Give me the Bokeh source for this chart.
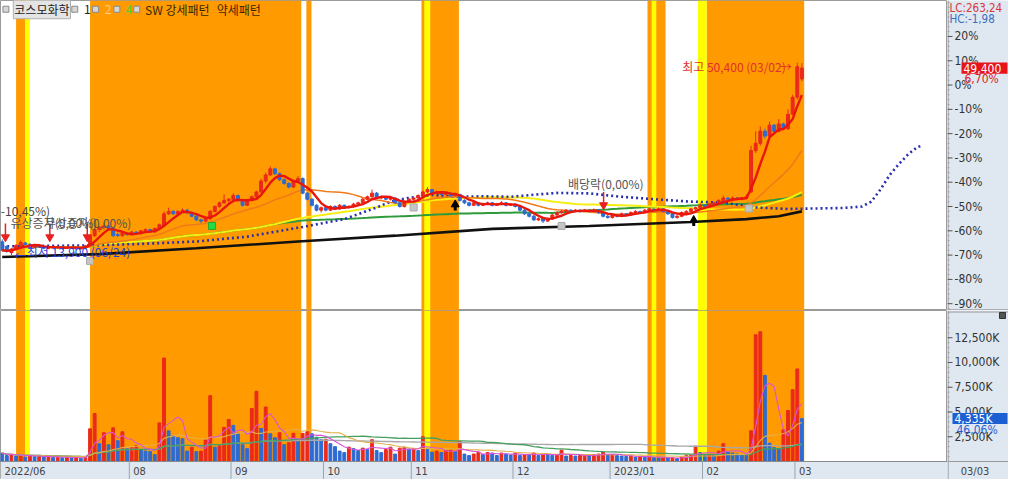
import numpy as np
import pandas as pd
from bokeh.plotting import figure
from bokeh.layouts import column, row
from bokeh.models import Range1d, BoxAnnotation, Label, ColumnDataSource
from bokeh.core.properties import value
from bokeh.embed import file_html
from bokeh.resources import INLINE

# ---------------- data (percent vs. base price, daily, 2022-06-22 .. 2023-03-03) ----------------
opens = [
    -64.5, -66.5, -69.0, -67.5, -66.5, -65.0, -65.6, -66.8, -66.0, -66.5,
    -67.2, -66.8, -67.0, -66.6, -67.2, -67.0, -66.8, -67.4, -67.0, -66.0,
    -62.0, -59.5, -58.5, -58.0, -59.0, -61.5, -62.0, -61.0, -61.5, -60.5,
    -61.2, -60.0, -59.5, -60.5, -59.0, -58.0, -53.0, -52.0, -53.0, -52.0,
    -51.5, -52.5, -54.0, -55.5, -56.0, -55.0, -52.0, -50.0, -48.5, -47.5,
    -47.0, -45.5, -47.5, -49.5, -47.5, -46.0, -44.0, -39.5, -37.0, -34.5,
    -36.5, -39.0, -40.5, -42.0, -39.5, -38.5, -44.5, -47.0, -49.5, -51.5,
    -50.5, -51.5, -50.0, -51.0, -49.5, -50.5, -50.0, -49.0, -48.5, -47.0,
    -46.0, -44.5, -46.5, -46.0, -47.0, -46.5, -48.5, -50.0, -48.0, -47.0,
    -46.5, -45.5, -44.0, -43.0, -44.5, -44.0, -45.0, -44.5, -45.5, -45.0,
    -47.5, -48.5, -49.5, -48.5, -49.5, -49.0, -48.5, -49.5, -49.0, -48.5,
    -49.5, -49.0, -50.0, -51.5, -53.0, -54.0, -55.5, -55.0, -56.0, -55.0,
    -53.5, -52.5, -52.0, -51.5, -52.0, -51.5, -52.0, -51.5, -52.0, -51.5,
    -52.5, -54.0, -54.5, -53.5, -54.0, -53.0, -53.5, -52.5, -52.0, -52.5,
    -51.5, -51.0, -51.5, -51.0, -52.0, -53.0, -54.5, -54.0, -52.5, -52.0,
    -51.0, -50.5, -49.5, -50.0, -49.0, -48.5, -47.5, -46.5, -47.0, -46.5,
    -47.0, -46.5, -44.0, -27.0, -24.0, -19.0, -21.0, -16.5, -19.0, -16.0,
    -18.0, -12.0, -5.0, 2.5]
highs = [
    -63.5, -66.0, -67.0, -65.5, -64.0, -64.5, -65.0, -65.8, -65.8, -66.2,
    -66.5, -66.5, -66.4, -66.4, -66.8, -66.5, -66.6, -66.8, -65.8, -61.5,
    -59.0, -58.0, -56.5, -57.5, -58.5, -60.8, -60.5, -60.5, -60.0, -60.2,
    -59.8, -59.0, -59.2, -58.8, -57.0, -52.0, -50.5, -51.5, -51.5, -50.8,
    -51.0, -52.0, -53.5, -55.0, -54.5, -51.5, -49.5, -48.0, -45.0, -46.5,
    -44.5, -45.0, -47.0, -47.0, -45.5, -43.5, -38.5, -36.0, -33.5, -34.0,
    -36.0, -38.5, -40.0, -39.0, -37.5, -38.0, -44.0, -46.5, -49.0, -50.0,
    -50.0, -49.5, -49.5, -49.0, -49.2, -49.6, -48.5, -48.0, -46.5, -45.5,
    -43.0, -44.0, -45.5, -45.8, -46.0, -46.2, -48.0, -47.5, -46.5, -46.0,
    -45.0, -43.5, -42.0, -42.8, -43.5, -43.8, -44.0, -44.2, -44.5, -44.8,
    -47.0, -48.0, -48.0, -48.2, -48.5, -48.0, -48.2, -48.5, -47.8, -48.2,
    -48.6, -48.8, -49.5, -51.0, -52.5, -53.5, -54.5, -54.8, -54.5, -53.0,
    -52.0, -51.5, -51.0, -51.2, -51.0, -51.2, -51.0, -51.0, -50.8, -51.0,
    -52.0, -53.5, -53.0, -53.2, -52.5, -52.8, -52.0, -51.5, -51.8, -51.0,
    -50.5, -50.8, -50.5, -50.8, -51.5, -52.8, -53.5, -52.0, -51.5, -50.5,
    -50.0, -48.5, -49.2, -48.5, -48.0, -47.0, -45.5, -46.2, -45.8, -46.2,
    -46.0, -45.0, -25.0, -19.0, -17.0, -18.0, -15.0, -16.0, -14.0, -15.5,
    -10.0, -4.0, 9.2, 9.0]
lows = [
    -68.5, -69.0, -70.0, -68.0, -67.0, -66.0, -67.2, -67.2, -67.0, -67.6,
    -67.6, -67.4, -67.2, -67.6, -67.5, -67.2, -67.8, -67.6, -67.2, -66.2,
    -62.5, -60.5, -59.5, -59.5, -62.5, -62.5, -62.4, -62.0, -61.8, -61.6,
    -61.5, -60.4, -60.8, -60.8, -59.4, -58.5, -53.5, -53.5, -53.4, -52.5,
    -53.0, -54.4, -56.0, -56.8, -56.4, -55.5, -52.5, -50.5, -49.0, -48.5,
    -47.5, -48.0, -50.0, -49.8, -48.0, -46.5, -44.5, -40.5, -37.5, -37.0,
    -39.5, -41.0, -42.5, -42.4, -40.0, -45.0, -47.5, -50.0, -52.0, -52.5,
    -52.0, -51.8, -51.2, -51.4, -51.0, -50.8, -50.4, -49.4, -48.8, -47.4,
    -46.4, -47.0, -47.0, -47.4, -47.5, -48.8, -50.4, -50.4, -48.4, -47.6,
    -47.0, -46.0, -44.5, -45.0, -44.8, -45.4, -45.4, -46.0, -45.8, -48.0,
    -49.0, -50.0, -49.8, -50.0, -49.8, -49.4, -50.0, -49.8, -49.4, -50.0,
    -49.8, -50.4, -52.0, -53.5, -54.5, -56.0, -56.0, -56.8, -56.4, -55.4,
    -54.0, -53.0, -52.4, -52.6, -52.4, -52.6, -52.2, -52.5, -52.4, -53.0,
    -54.5, -55.0, -55.0, -54.5, -54.4, -54.0, -53.8, -52.8, -53.0, -52.8,
    -51.8, -52.0, -51.8, -52.4, -53.4, -55.0, -55.0, -54.4, -52.8, -52.4,
    -51.4, -51.0, -50.5, -50.4, -49.4, -48.8, -47.8, -47.5, -47.4, -47.5,
    -47.4, -47.0, -44.5, -28.0, -25.0, -22.0, -21.5, -20.0, -19.5, -18.5,
    -18.5, -12.5, -6.0, 1.5]
closes = [
    -68.0, -68.5, -67.5, -66.0, -64.8, -65.6, -66.8, -66.0, -66.5, -67.2,
    -66.8, -67.0, -66.6, -67.2, -67.0, -66.8, -67.4, -67.0, -66.2, -62.0,
    -59.5, -58.5, -58.0, -59.0, -62.0, -62.0, -61.0, -61.5, -60.5, -61.2,
    -60.0, -59.5, -60.5, -59.0, -57.5, -53.0, -52.0, -53.0, -52.0, -51.5,
    -52.5, -54.0, -55.5, -56.0, -55.0, -52.0, -50.0, -48.5, -47.5, -47.0,
    -45.5, -47.5, -49.5, -47.5, -46.0, -44.0, -39.5, -37.0, -34.5, -36.5,
    -39.0, -40.5, -42.0, -39.5, -38.5, -44.5, -47.0, -49.5, -51.5, -50.5,
    -51.5, -50.0, -51.0, -49.5, -50.5, -50.0, -49.0, -48.5, -47.0, -46.0,
    -44.5, -46.5, -46.0, -47.0, -46.5, -48.5, -50.0, -48.0, -47.0, -46.5,
    -45.5, -44.0, -43.0, -44.5, -44.0, -45.0, -44.5, -45.5, -45.0, -47.5,
    -48.5, -49.5, -48.5, -49.5, -49.0, -48.5, -49.5, -49.0, -48.5, -49.5,
    -49.0, -50.0, -51.5, -53.0, -54.0, -55.5, -55.0, -56.0, -55.0, -53.5,
    -52.5, -52.0, -51.5, -52.0, -51.5, -52.0, -51.5, -52.0, -51.5, -52.5,
    -54.0, -54.5, -53.5, -54.0, -53.0, -53.5, -52.5, -52.0, -52.5, -51.5,
    -51.0, -51.5, -51.0, -52.0, -53.0, -54.5, -54.0, -52.5, -52.0, -51.0,
    -50.5, -49.5, -50.0, -49.0, -48.5, -47.5, -46.5, -47.0, -46.5, -47.0,
    -46.5, -46.0, -27.0, -24.0, -19.0, -21.0, -16.5, -19.0, -16.0, -18.0,
    -12.0, -5.0, 7.5, 7.0]
volumes_k = [
    850, 600, 700, 550, 650, 450, 600, 500, 550, 450,
    500, 400, 450, 380, 420, 350, 400, 320, 380, 3300,
    4850, 1800, 2900, 1700, 3400, 2100, 3000, 1300, 1400, 1600,
    1200, 1050, 1000, 700, 3900, 10450, 3100, 2600, 2400, 2300,
    1050, 1450, 1000, 1050, 2200, 6650, 1450, 1600, 3450, 4250,
    3650, 2850, 1700, 1300, 5350, 7100, 3350, 5500, 2800, 2400,
    2900, 1700, 1900, 2850, 2100, 2850, 3000, 2800, 2450, 2200,
    2250, 1800, 1500, 1050, 900, 1450, 1300, 1100, 1350, 1200,
    2200, 1100, 900, 1200, 1450, 750, 1350, 1450, 1250, 1300,
    1100, 2500, 1250, 950, 1050, 900, 1100, 1150, 1000, 2000,
    750, 600, 750, 900, 700, 900, 850, 600, 850, 750,
    650, 850, 600, 700, 650, 850, 600, 750, 650, 600,
    700, 1150, 550, 600, 550, 600, 650, 600, 700, 750,
    950, 650, 700, 600, 550, 500, 550, 450, 500, 450,
    500, 400, 350, 400, 350, 380, 300, 450, 600, 650,
    1550, 900, 650, 700, 650, 1050, 1800, 950, 850, 750,
    650, 600, 3100, 12800, 13100, 8700, 1850, 1400, 1250, 3200,
    5150, 7250, 9350, 4335]

# long moving average (black)
long_ma_index = [0, 21, 42, 64, 85, 106, 127, 149, 161, 168, 173]
long_ma_value = [-70.8, -69.6, -67.2, -64.4, -62.0, -59.2, -58.0, -56.4, -55.2, -54.0, -52.0]
# leading span (blue dotted), shifted 26 days forward
span_index = [0, 10, 19, 30, 42, 53, 65, 74, 81, 84, 88, 93, 98, 104, 110, 116, 120, 127, 134,
              141, 149, 156, 163, 170, 176, 182, 186, 188, 190, 192, 194, 196, 198, 199]
span_value = [-66.4, -66.2, -66.0, -65.4, -64.4, -62.4, -58.4, -55.2, -50.4, -48.0, -46.4, -45.2,
              -46.0, -45.8, -46.0, -45.0, -44.4, -44.6, -46.0, -47.0, -48.0, -48.4, -50.4, -51.0,
              -50.8, -50.6, -50.0, -48.0, -43.0, -37.0, -32.5, -28.5, -25.5, -25.0]

# month axis
month_labels = ["2022/06", "08", "09", "10", "11", "12", "2023/01", "02", "03"]
month_first_index = [0, 28, 50, 70, 89, 111, 132, 152, 172]

# SW pattern periods (index units)
strong_start = [3.0, 19.0, 65.8, 90.7, 139.6, 152.4]
strong_end = [5.0, 64.7, 66.9, 98.8, 143.5, 173.5]
weak_start = [5.0, 91.3, 140.5, 150.5]
weak_end = [6.0, 92.6, 141.5, 152.4]

# signal markers
gray_sig_index = [19, 89, 121, 161.5]
gray_sig_value = [-72.4, -50.4, -58.0, -50.8]
green_sig_index = [45.4]
green_sig_value = [-58.0]
black_sig_index = [98, 149.6]
black_sig_value = [-49.2, -55.6]

# corporate events
event_index = [0.7, 10.3, 18.4]
dividend_index = [130.1]

# axis ticks / readouts
price_ticks = list(range(-90, 21, 10))
price_minor = list(range(-92, 35, 2))
vol_ticks = [2500, 5000, 7500, 10000, 12500]
vol_tick_labels = ["2,500K", "5,000K", "7,500K", "10,000K", "12,500K"]
vol_minor = list(range(500, 15001, 500))
last_close_pct = 7.0
last_volume_k = 4335

# ---------------- style ----------------
MAIN_W = 947
RIGHT_W = 61
PH = 310
VH = 169
VBOT = 18
VTOP = 2
X0, X1 = -0.37, 204.5
PX = MAIN_W / (X1 - X0)
PY0, PY1 = -92.8, 34.8
VMAX = 15050
KPX = VMAX / (VH - VBOT - VTOP)
VY0, VY1 = -VBOT * KPX, VMAX + VTOP * KPX
ORANGE = "#ff9a00"
YELLOW = "#ffff00"
UP = "#ea2a1a"
DOWN = "#2e6bd1"
AXBG = "#dfe7f0"
KFONT = "Noto Sans CJK KR"
NFONT = "DejaVu Sans Condensed"

n = len(closes)
idx = np.arange(n)
o = np.array(opens); c = np.array(closes); h = np.array(highs); l = np.array(lows)
cc = np.where(c >= o, UP, DOWN)
s = pd.Series(c)
ma5 = s.rolling(5, min_periods=1).mean()
ma20 = s.rolling(20, min_periods=1).mean()
ma60 = s.rolling(60, min_periods=1).mean()
ma120 = s.rolling(120, min_periods=1).mean()

vol = np.array(volumes_k, dtype=float)
vup = np.r_[False, vol[1:] > vol[:-1]]
vc = np.where(vup, UP, DOWN)
vs = pd.Series(vol)
vma5 = vs.rolling(5, min_periods=1).mean()
vma20 = vs.rolling(20, min_periods=1).mean()
vma60 = vs.rolling(60, min_periods=1).mean()
vma120 = vs.rolling(120, min_periods=1).mean()


def add_bands(fig, bottom=None):
    for a, b in zip(strong_start, strong_end):
        fig.add_layout(BoxAnnotation(left=a, right=b, bottom=bottom, fill_color=ORANGE, fill_alpha=1.0,
                                     line_color=None, level="underlay"))
    for a, b in zip(weak_start, weak_end):
        fig.add_layout(BoxAnnotation(left=a, right=b, bottom=bottom, fill_color=YELLOW, fill_alpha=1.0,
                                     line_color=None, level="underlay"))


def lab(fig, x, y, text, color, size="12px", font=KFONT, align="left", baseline="middle", **kw):
    fig.add_layout(Label(x=x, y=y, text=text, text_color=color, text_font_size=size,
                         text_font=font, text_align=align, text_baseline=baseline, **kw))


def txt(fig, xs, ys, texts, color, size="12px", font=NFONT, align="left"):
    fig.text(x=xs, y=ys, text=texts, text_color=color, text_font_size=size,
             text_font=value(font), text_align=align, text_baseline="middle")


def side_panel(height, yr):
    f = figure(width=RIGHT_W, height=height, x_range=Range1d(0, RIGHT_W), y_range=yr,
               output_backend="svg", toolbar_location=None, x_axis_location=None,
               y_axis_location=None, min_border=0)
    f.grid.visible = False
    f.outline_line_color = None
    f.background_fill_color = AXBG
    f.border_fill_color = AXBG
    return f


# ---------------- price panel ----------------
p = figure(width=MAIN_W, height=PH, x_range=Range1d(X0, X1), y_range=Range1d(PY0, PY1),
           output_backend="svg", toolbar_location=None, x_axis_location=None,
           y_axis_location=None, min_border=0)
p.grid.visible = False
p.outline_line_color = "#9a9a9a"
p.background_fill_color = "white"
add_bands(p)

p.line(long_ma_index, long_ma_value, line_color="#111111", line_width=2.6)
p.line(idx, ma120, line_color="#2f9a3a", line_width=2)
p.line(idx, ma60, line_color="#f6ee10", line_width=2)
p.line(span_index, span_value, line_color="#2830b0", line_width=2.6, line_dash="2 3")
p.line(idx, ma20, line_color="#f07a1a", line_width=1.5)

src = ColumnDataSource(dict(x=idx, top=np.maximum(o, c), bottom=np.minimum(o, c), hi=h, lo=l, col=cc))
p.segment("x", "hi", "x", "lo", line_color="col", line_width=1, source=src)
p.vbar(x="x", width=0.64, top="top", bottom="bottom", fill_color="col", line_color="col", source=src)
p.line(idx, ma5, line_color="#e8160c", line_width=2.4)

p.scatter(gray_sig_index, gray_sig_value, marker="square", size=7, fill_color="#c4c4c4", line_color="#aaaaaa")
p.scatter(green_sig_index, green_sig_value, marker="square", size=7, fill_color="#22dd44", line_color="#22aa33")
p.scatter(black_sig_index, black_sig_value, marker="triangle", size=8, fill_color="black", line_color="black")
p.segment(black_sig_index, [v - 2.4 for v in black_sig_value], black_sig_index,
          [v - 0.6 for v in black_sig_value], line_color="black", line_width=3)

p.segment(event_index, [-57.0] * 3, event_index, [-62.0] * 3, line_color="#e82020", line_width=1.5)
p.scatter(event_index, [-62.6] * 3, marker="inverted_triangle", size=8, color="#e82020")
p.segment(dividend_index, [-44.0], dividend_index, [-48.8], line_color="#e82020", line_width=1.5)
p.scatter(dividend_index, [-49.4], marker="inverted_triangle", size=8, color="#e82020")

lab(p, -0.3, -51.6, "-10,45%)", "#444444")
lab(p, 1.8, -56.6, "유상증자(0,00%)", "#555555")
lab(p, 9.2, -56.6, "무상증자(0,00%)", "#555555")
lab(p, 2.6, -70.0, "←", "#2a40d8")
lab(p, 5.3, -68.6, "최저 13,900 (06/24)", "#2a40d8")
lab(p, 122.4, -40.4, "배당락(0,00%)", "#555555")
lab(p, 147.1, 7.6, "최고 50,400 (03/02)", "#e03030")
lab(p, 168.2, 7.6, "→", "#e03030")

leg_y = 31.2
p.scatter([0.8, 15.7, 20.2, 24.8, 29.1], [leg_y] * 5, marker="square", size=6,
          fill_color="#d6d6d6", line_color="#8a8a8a")
lab(p, 2.4, leg_y, "코스모화학", "#222222", background_fill_color="#e4e4e4",
    border_line_color="#b0b0b0", padding=1)
lab(p, 17.7, leg_y, "1", "#222222")
lab(p, 22.2, leg_y, "2", "#ffc98a")
lab(p, 26.7, leg_y, "4", "#55cc33")
lab(p, 30.9, leg_y, "SW 강세패턴", "#3a2800")
lab(p, 46.4, leg_y, "약세패턴", "#3a2800")

# ---------------- price side panel (axis) ----------------
pr = side_panel(PH, p.y_range)
pr.segment([0.5], [PY0], [0.5], [PY1], line_color="#8a8a8a", line_width=1)
pr.segment([0] * len(price_minor), price_minor, [2] * len(price_minor), price_minor,
           line_color="#9a9a9a", line_width=1)
pr.segment([0] * len(price_ticks), price_ticks, [5] * len(price_ticks), price_ticks,
           line_color="#555555", line_width=1)
txt(pr, [7] * len(price_ticks), price_ticks, [f"{t}%" for t in price_ticks], "#333333")
pr.segment([0], [PY0 + 0.3], [RIGHT_W], [PY0 + 0.3], line_color="#9a9a9a", line_width=1)
txt(pr, [2], [31.9], ["LC:263,24"], "#d9363e", size="11.5px")
txt(pr, [2], [27.3], ["HC:-1,98"], "#3a6fc0", size="11.5px")
pr.quad(left=[14], right=[RIGHT_W - 1], bottom=[last_close_pct - 2.3], top=[last_close_pct + 2.3],
        fill_color="#e8141c", line_color=None)
txt(pr, [16], [last_close_pct], ["49,400"], "white")
txt(pr, [17], [2.4], ["6,70%"], "#e02020")

# ---------------- volume panel (with date strip inside the frame) ----------------
v = figure(width=MAIN_W, height=VH, x_range=p.x_range, y_range=Range1d(VY0, VY1),
           output_backend="svg", toolbar_location=None, x_axis_location=None,
           y_axis_location=None, min_border=0)
v.grid.visible = False
v.outline_line_color = "#9a9a9a"
v.background_fill_color = "white"
add_bands(v, bottom=0)
v.add_layout(BoxAnnotation(top=0, fill_color=AXBG, fill_alpha=1.0, line_color=None, level="underlay"))

vsrc = ColumnDataSource(dict(x=idx, top=vol, col=vc))
v.vbar(x="x", width=0.62, top="top", bottom=0, fill_color="col", line_color="col", source=vsrc)
v.line(idx, vma120, line_color="#a8a8a8", line_width=1.4)
v.line(idx, vma60, line_color="#45a060", line_width=1.3)
v.line(idx, vma20, line_color="#e2b048", line_width=1.1)
v.line(idx, vma5, line_color="#d855d8", line_width=1.1)

v.line([X0, X1], [0, 0], line_color="#8a8a8a", line_width=1)
sep = [m - 0.5 for m in month_first_index[1:]]
v.segment(sep, [VY0] * len(sep), sep, [0] * len(sep), line_color="#9aa4b0", line_width=1)
label_x = [max(m - 0.5, X0) + 4 / PX for m in month_first_index]
txt(v, label_x, [-9.5 * KPX] * len(label_x), month_labels, "#444444", size="11px")

# ---------------- volume side panel ----------------
vr = side_panel(VH, Range1d(VY0, VY1))
vr.segment([0.5], [VY0], [0.5], [VY1], line_color="#8a8a8a", line_width=1)
vr.segment([0] * len(vol_minor), vol_minor, [2] * len(vol_minor), vol_minor,
           line_color="#9a9a9a", line_width=1)
vr.segment([0] * len(vol_ticks), vol_ticks, [5] * len(vol_ticks), vol_ticks,
           line_color="#555555", line_width=1)
txt(vr, [7] * len(vol_ticks), vol_ticks, vol_tick_labels, "#333333")
vr.segment([0], [0], [RIGHT_W], [0], line_color="#9a9a9a", line_width=1)
vr.segment([0], [VMAX + 0.5 * KPX], [RIGHT_W], [VMAX + 0.5 * KPX], line_color="#9a9a9a", line_width=1)
vr.quad(left=[5], right=[RIGHT_W - 1], bottom=[last_volume_k - 5.5 * KPX], top=[last_volume_k + 5.5 * KPX],
        fill_color="#1c5fd2", line_color=None)
txt(vr, [7], [last_volume_k], ["4,335K"], "white")
txt(vr, [9], [last_volume_k - 11 * KPX], ["46,06%"], "#2a5fd0")
vr.scatter([RIGHT_W - 6], [VMAX - 3 * KPX], marker="square", size=6, fill_color="#555555", line_color="#333333")
txt(vr, [27.5], [-9.5 * KPX], ["03/03"], "#444444", size="11px", align="center")

layout = column(row(p, pr), row(v, vr))
open("out.html", "w").write(file_html(layout, INLINE))
